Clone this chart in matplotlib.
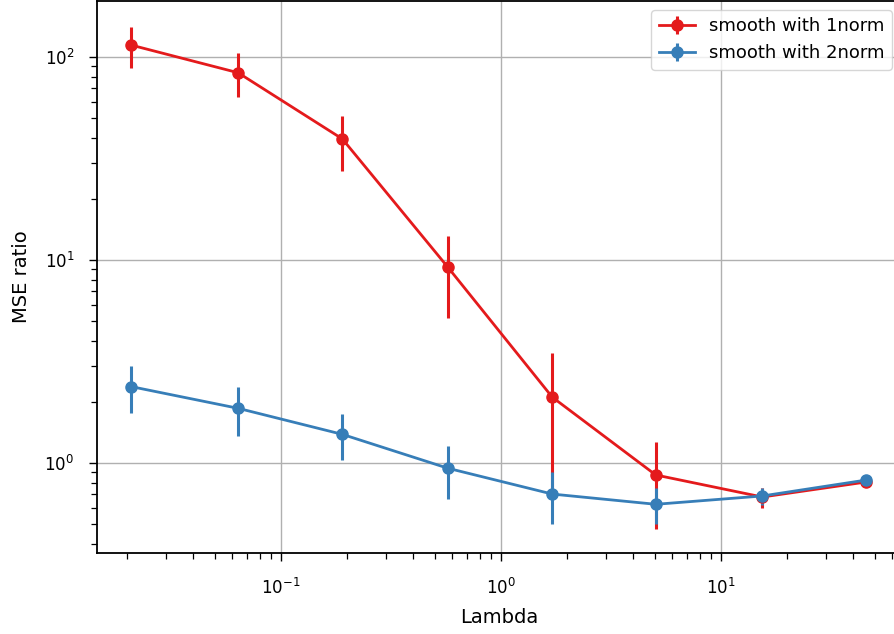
import matplotlib
matplotlib.use("Agg")
import matplotlib.pyplot as plt
import numpy as np

lam = [0.0208, 0.0638, 0.19, 0.574, 1.71, 5.05, 15.4, 45.6]

# smooth with 1norm
mse_1norm = [114.6, 83.7, 39.5, 9.2, 2.11, 0.873, 0.68, 0.806]
err_1norm = [26.0, 20.5, 12.0, 4.0, 1.37, 0.40, 0.077, 0.01]

# smooth with 2norm
mse_2norm = [2.38, 1.86, 1.384, 0.942, 0.703, 0.626, 0.688, 0.824]
err_2norm = [0.62, 0.5, 0.35, 0.275, 0.2, 0.126, 0.065, 0.01]

fig = plt.figure(figsize=(8.95, 6.34), dpi=100)
ax = fig.add_axes([0.108, 0.1282, 0.8987, 0.8702])

ax.errorbar(lam, mse_1norm, yerr=err_1norm, color="#e41a1c", marker="o",
            markersize=8, linewidth=2, elinewidth=2.2, label="smooth with 1norm")
ax.errorbar(lam, mse_2norm, yerr=err_2norm, color="#377eb8", marker="o",
            markersize=8, linewidth=2, elinewidth=2.2, label="smooth with 2norm")

ax.set_xscale("log")
ax.set_yscale("log")
ax.set_xlim(10 ** -1.838, 10 ** 1.818)
ax.set_ylim(10 ** -0.442, 10 ** 2.276)
ax.grid(True, linewidth=1.0)

ax.tick_params(which="major", length=6, width=1.0, labelsize=12)
ax.tick_params(which="minor", length=4, width=0.9)
ax.tick_params(axis="x", which="major", pad=12)
ax.tick_params(axis="y", which="major", pad=10)
for s in ax.spines.values():
    s.set_linewidth(1.3)

ax.set_xlabel("Lambda", fontsize=14, labelpad=7)
ax.set_ylabel("MSE ratio", fontsize=14, labelpad=10)
ax.legend(loc="upper right", fontsize=13)

fig.savefig("out.png", dpi=100)
